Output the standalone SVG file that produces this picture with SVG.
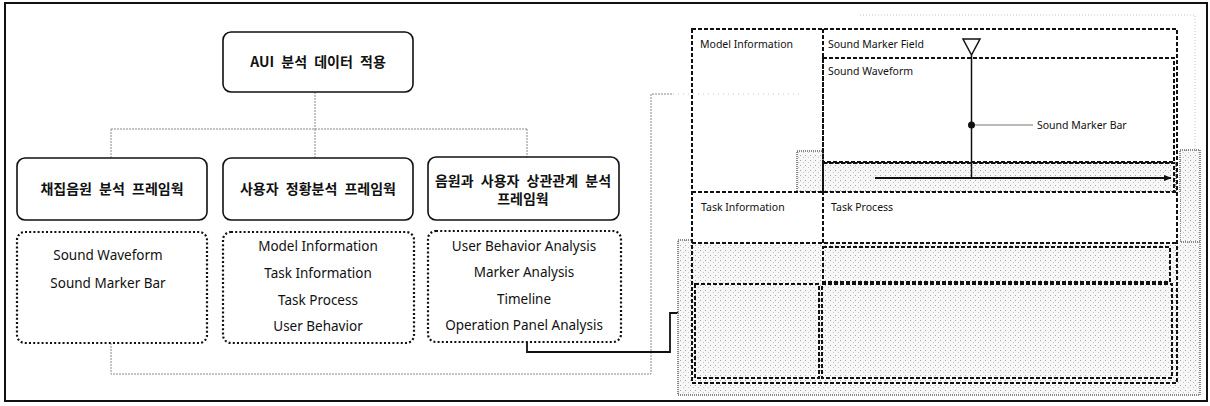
<svg xmlns="http://www.w3.org/2000/svg" width="1210" height="406" viewBox="0 0 1210 406">
<defs>
<pattern id="stip" width="5" height="5" patternUnits="userSpaceOnUse">
<rect width="5" height="5" fill="#f7f7f7"/>
<rect x="0" y="0" width="1" height="1" fill="#a8a8a8"/>
<rect x="3" y="2" width="1" height="1" fill="#c4c4c4"/>
</pattern>
<marker id="arr" viewBox="0 0 10 10" refX="9" refY="5" markerWidth="8" markerHeight="8" orient="auto" markerUnits="userSpaceOnUse">
<path d="M0,1 L10,5 L0,9 Z" fill="#111"/>
</marker>
</defs>
<style>
.kr{font-family:"Noto Sans CJK KR","Noto Sans",sans-serif;font-weight:bold;font-size:14px;fill:#111;word-spacing:4px}
.en{font-family:"Noto Sans","Open Sans",sans-serif;font-size:13.5px;fill:#111}
.sm{font-family:"Noto Sans","Open Sans",sans-serif;font-size:10.5px;fill:#111}
.solidbox{fill:#fff;stroke:#111;stroke-width:1.6}
.dotbox{fill:none;stroke:#111;stroke-width:2.2;stroke-dasharray:2 2.2}
.gcon{fill:none;stroke:#8a8a8a;stroke-width:1;stroke-dasharray:2 1}
.dash{fill:none;stroke:#111;stroke-width:2;stroke-dasharray:4 2}
.gray{fill:url(#stip);stroke:#8a8a8a;stroke-width:2;stroke-dasharray:1 1}
</style>
<rect x="0" y="0" width="1210" height="406" fill="#fff"/>
<rect x="5" y="3" width="1202" height="398" fill="none" stroke="#111" stroke-width="2"/>

<g id="connectors">
<path class="gcon" d="M315,92 V129 M111,129 H527 M111,129 V158 M315,129 V158 M527,129 V157"/>
<path class="gcon" d="M111,343 V374 H651 V94 H673"/>
<path d="M673,94 H800" fill="none" stroke="#c8c8c8" stroke-width="1" stroke-dasharray="1 4"/>
<path d="M527,342 V352 H670 V313 H678" fill="none" stroke="#111" stroke-width="1.8"/>
</g>

<g id="node-root">
<rect class="solidbox" x="223" y="32" width="190" height="60" rx="8"/>
<text class="kr" x="318" y="67" text-anchor="middle">AUI 분석 데이터 적용</text>
</g>

<g id="node-sound-framework">
<rect class="solidbox" x="17" y="158" width="190" height="62" rx="8"/>
<text class="kr" x="112" y="194" text-anchor="middle">채집음원 분석 프레임웍</text>
</g>
<g id="node-user-framework">
<rect class="solidbox" x="223" y="158" width="190" height="62" rx="8"/>
<text class="kr" x="318" y="194" text-anchor="middle">사용자 정황분석 프레임웍</text>
</g>
<g id="node-corr-framework">
<rect class="solidbox" x="428" y="157" width="191" height="63" rx="8"/>
<text class="kr" x="523" y="186" text-anchor="middle">음원과 사용자 상관관계 분석</text>
<text class="kr" x="523" y="204" text-anchor="middle">프레임웍</text>
</g>

<g id="node-sound-items">
<rect class="dotbox" x="17" y="232" width="190" height="111" rx="8"/>
<text class="en" x="108" y="260" text-anchor="middle">Sound Waveform</text>
<text class="en" x="108" y="288" text-anchor="middle">Sound Marker Bar</text>
</g>
<g id="node-user-items">
<rect class="dotbox" x="223" y="232" width="191" height="111" rx="8"/>
<text class="en" x="318" y="251" text-anchor="middle">Model Information</text>
<text class="en" x="318" y="278" text-anchor="middle">Task Information</text>
<text class="en" x="318" y="305" text-anchor="middle">Task Process</text>
<text class="en" x="318" y="331" text-anchor="middle">User Behavior</text>
</g>
<g id="node-corr-items">
<rect class="dotbox" x="428" y="231" width="193" height="111" rx="8"/>
<text class="en" x="524" y="251" text-anchor="middle">User Behavior Analysis</text>
<text class="en" x="524" y="277" text-anchor="middle">Marker Analysis</text>
<text class="en" x="524" y="304" text-anchor="middle">Timeline</text>
<text class="en" x="524" y="330" text-anchor="middle">Operation Panel Analysis</text>
</g>

<g id="node-screen">
<path d="M860,15 H1195 V150" fill="none" stroke="#c4c4c4" stroke-width="1" stroke-dasharray="1 2"/>
<rect class="gray" x="678" y="240" width="522" height="155"/>
<rect class="gray" x="1180" y="150" width="20" height="92"/>
<rect class="gray" x="797" y="151" width="26" height="41"/>
<rect class="gray" x="823" y="163" width="353" height="29" stroke="none"/>
<rect x="692" y="192" width="485" height="51" fill="#fff"/>
<rect x="1178" y="192" width="2" height="51" fill="#fff"/>
<rect class="dash" x="692" y="29" width="485" height="354"/>
<path class="dash" d="M823,29 V243 M823,58 H1177 M692,192 H1177 M692,243 H1177"/>
<rect class="dash" x="823" y="58" width="351" height="104"/>
<rect class="dash" x="823" y="163" width="351" height="29"/>
<rect class="dash" x="823" y="247" width="347" height="35"/>
<rect class="dash" x="695" y="284" width="124" height="94"/>
<rect class="dash" x="822" y="284" width="350" height="94"/>
<text class="sm" x="700" y="48">Model Information</text>
<text class="sm" x="828" y="48">Sound Marker Field</text>
<text class="sm" x="828" y="75">Sound Waveform</text>
<text class="sm" x="1037" y="129">Sound Marker Bar</text>
<text class="sm" x="701" y="211">Task Information</text>
<text class="sm" x="831" y="211">Task Process</text>
<path d="M963,39 H980 L971.5,55 Z" fill="#fff" stroke="#111" stroke-width="1.5"/>
<path d="M971.5,55 V178" stroke="#111" stroke-width="1.5"/>
<path d="M971.5,125 H1033" stroke="#777" stroke-width="1"/>
<circle cx="971.5" cy="125" r="3.5" fill="#111"/>
<path d="M875,178 H1171" stroke="#111" stroke-width="2" marker-end="url(#arr)"/>
</g>
</svg>
